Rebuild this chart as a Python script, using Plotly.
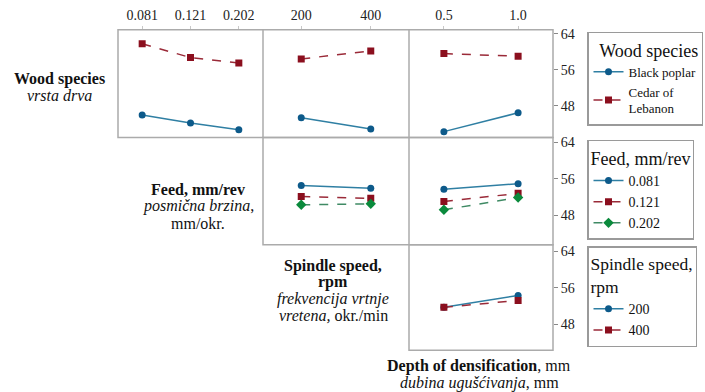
import plotly.graph_objects as go

# ---- data ----
feed_levels = ["0.081", "0.121", "0.202"]
speed_levels = ["200", "400"]
depth_levels = ["0.5", "1.0"]
species_names = ["Black poplar", "Cedar of<br>Lebanon"]
feed_names = ["0.081", "0.121", "0.202"]
speed_names = ["200", "400"]

wood_feed_poplar = [45.9, 44.1, 42.6]
wood_feed_cedar = [61.8, 58.7, 57.5]
wood_speed_poplar = [45.3, 42.8]
wood_speed_cedar = [58.4, 60.2]
wood_depth_poplar = [42.2, 46.4]
wood_depth_cedar = [59.6, 59.0]

feed_speed_081 = [54.5, 53.9]
feed_speed_121 = [52.1, 51.7]
feed_speed_202 = [50.3, 50.5]
feed_depth_081 = [53.7, 54.9]
feed_depth_121 = [51.0, 52.8]
feed_depth_202 = [49.2, 51.9]

speed_depth_200 = [51.7, 54.3]
speed_depth_400 = [51.7, 53.2]

y_ticks = [48, 56, 64]

# ---- styles ----
W, H = 705, 392
SERIF = "Liberation Serif"
BLUE = dict(line=dict(color="#2f7fa3", width=1.5, dash="solid"),
            marker=dict(color="#0d5a8a", size=7, symbol="circle"))
RED = dict(line=dict(color="#9a2a38", width=1.5, dash="dash"),
           marker=dict(color="#8b0f1e", size=7, symbol="square"))
GREEN = dict(line=dict(color="#3f8a64", width=1.5, dash="dash"),
             marker=dict(color="#0a8a3c", size=8, symbol="diamond"))

fig = go.Figure()


def add(x, y, style, name, ax, legend, show):
    fig.add_trace(go.Scatter(
        x=x, y=y, mode="lines+markers", name=name,
        line=style["line"], marker=style["marker"],
        xaxis="x" + ax, yaxis="y" + ax, legend=legend,
        legendgroup=legend + name, showlegend=show))


# row 1 : wood species
add(feed_levels, wood_feed_poplar, BLUE, species_names[0], "", "legend", True)
add(feed_levels, wood_feed_cedar, RED, species_names[1], "", "legend", True)
add(speed_levels, wood_speed_poplar, BLUE, species_names[0], "2", "legend", False)
add(speed_levels, wood_speed_cedar, RED, species_names[1], "2", "legend", False)
add(depth_levels, wood_depth_poplar, BLUE, species_names[0], "3", "legend", False)
add(depth_levels, wood_depth_cedar, RED, species_names[1], "3", "legend", False)
# row 2 : feed
add(speed_levels, feed_speed_081, BLUE, feed_names[0], "4", "legend2", True)
add(speed_levels, feed_speed_121, RED, feed_names[1], "4", "legend2", True)
add(speed_levels, feed_speed_202, GREEN, feed_names[2], "4", "legend2", True)
add(depth_levels, feed_depth_081, BLUE, feed_names[0], "5", "legend2", False)
add(depth_levels, feed_depth_121, RED, feed_names[1], "5", "legend2", False)
add(depth_levels, feed_depth_202, GREEN, feed_names[2], "5", "legend2", False)
# row 3 : spindle speed
add(depth_levels, speed_depth_200, BLUE, speed_names[0], "6", "legend3", True)
add(depth_levels, speed_depth_400, RED, speed_names[1], "6", "legend3", True)

# ---- geometry (pixels -> paper) ----
cols = {1: (118, 263), 2: (263, 409), 3: (409, 553)}
rows = {1: (27, 135.5), 2: (135.5, 243.5), 3: (243.5, 350)}
xr = {1: [-0.5, 2.5], 2: [-0.55, 1.55], 3: [-0.47, 1.47]}
yr = {1: [40.9, 64.9], 2: [41.6, 65.0], 3: [42.3, 65.4]}


def xd(c):
    a, b = cols[c]
    return [a / W, b / W]


def yd(r):
    a, b = rows[r]
    return [1 - b / H, 1 - a / H]


GRAY = "#ababab"
panels = {"": (1, 1), "2": (1, 2), "3": (1, 3), "4": (2, 2), "5": (2, 3), "6": (3, 3)}
lay = {}
for key, (r, c) in panels.items():
    top = r == 1
    right = c == 3
    lay["xaxis" + key] = dict(
        domain=xd(c), anchor="y" + key, type="category", range=xr[c],
        showline=False, showgrid=False, zeroline=False,
        side="top", showticklabels=top, ticks="outside" if top else "",
        ticklen=3, tickcolor="#c8c8c8",
        tickfont=dict(size=14, color="#222", family=SERIF))
    lay["yaxis" + key] = dict(
        domain=yd(r), anchor="x" + key, range=yr[r],
        showline=False, showgrid=False, zeroline=False,
        side="right", showticklabels=right, ticks="outside" if right else "",
        ticklen=4, tickcolor="#888", tickvals=y_ticks,
        tickfont=dict(size=14, color="#222", family=SERIF))


def px_rect(x0, y0, x1, y1):
    return dict(type="rect", xref="paper", yref="paper",
                x0=x0 / W, x1=x1 / W, y0=1 - y1 / H, y1=1 - y0 / H,
                line=dict(color=GRAY, width=1.5), layer="below")


def px_line(x0, y0, x1, y1):
    return dict(type="line", xref="paper", yref="paper",
                x0=x0 / W, x1=x1 / W, y0=1 - y0 / H, y1=1 - y1 / H,
                line=dict(color=GRAY, width=1.5), layer="below")


shapes = [
    px_rect(cols[1][0], rows[1][0], cols[3][1], rows[1][1]),
    px_line(cols[2][0], rows[1][0], cols[2][0], rows[1][1]),
    px_line(cols[3][0], rows[1][0], cols[3][0], rows[2][1]),
    px_rect(cols[2][0], rows[2][0], cols[3][1], rows[2][1]),
    px_rect(cols[3][0], rows[3][0], cols[3][1], rows[3][1]),
]

legend_common = dict(xanchor="left", yanchor="top", bordercolor="#9a9a9a",
                     borderwidth=1.5, bgcolor="white", tracegroupgap=0,
                     itemwidth=30)
lay["legend"] = dict(x=587 / W, y=1 - 29 / H,
                     title=dict(text="  Wood species", font=dict(size=18, family=SERIF, color="#111")),
                     font=dict(size=13, family=SERIF, color="#111"), **legend_common)
lay["legend2"] = dict(x=587 / W, y=1 - 138 / H,
                      title=dict(text="Feed, mm/rev", font=dict(size=18, family=SERIF, color="#111")),
                      font=dict(size=14, family=SERIF, color="#111"), **legend_common)
lay["legend3"] = dict(x=587 / W, y=1 - 245 / H,
                      title=dict(text="Spindle speed,<br>rpm", font=dict(size=17.5, family=SERIF, color="#111")),
                      font=dict(size=14, family=SERIF, color="#111"), **legend_common)

# side labels, one annotation per text line
label_lines = [
    (59, 77, "<b>Wood species</b>"),
    (59, 93, "<i>vrsta drva</i>"),
    (198, 188, "<b>Feed, mm/rev</b>"),
    (198, 205, "<i>posmična brzina</i>,"),
    (198, 222, "mm/okr."),
    (333, 265, "<b>Spindle speed,</b>"),
    (333, 281, "<b>rpm</b>"),
    (333, 298, "<i>frekvencija vrtnje</i>"),
    (333, 315, "<i>vretena,</i> okr./min"),
    (479, 366, "<b>Depth of densification</b>, mm"),
    (479, 383, "<i>dubina ugušćivanja</i>, mm"),
]
annotations = [dict(x=x / W, y=1 - y / H, xref="paper", yref="paper",
                    text=t, showarrow=False, xanchor="center", yanchor="middle",
                    align="center", font=dict(size=16, color="#111", family=SERIF))
               for x, y, t in label_lines]

fig.update_layout(
    width=W, height=H, margin=dict(l=0, r=0, t=0, b=0),
    paper_bgcolor="white", plot_bgcolor="white",
    annotations=annotations, shapes=shapes, **lay)

fig.write_html("out.html")
